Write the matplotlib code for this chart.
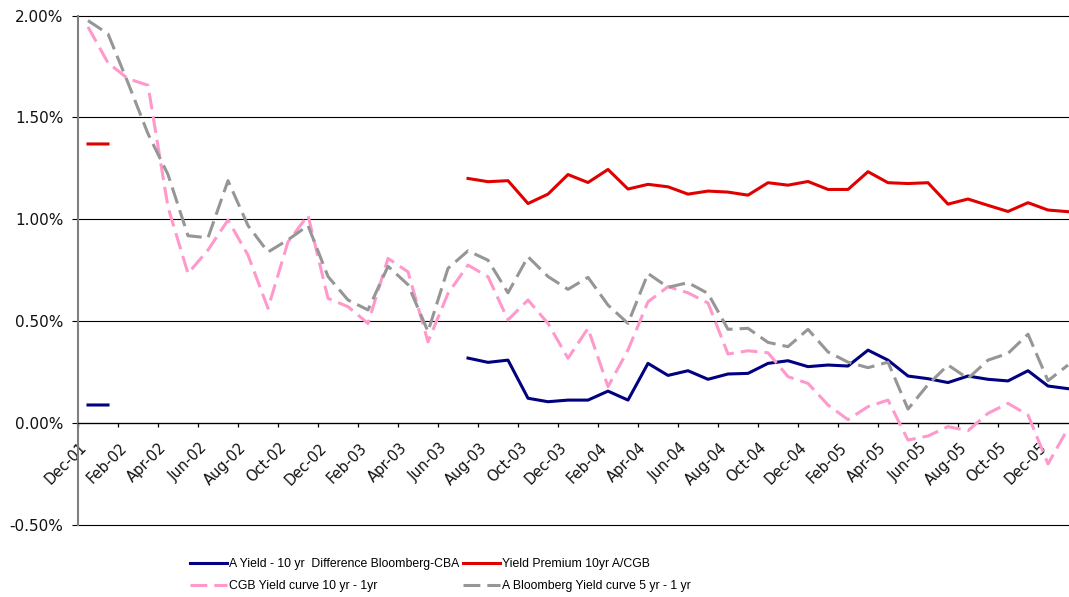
import numpy as np
import pandas as pd
import matplotlib
matplotlib.use("Agg")
import matplotlib.pyplot as plt
import matplotlib.transforms as mtrans
from matplotlib.ticker import FuncFormatter

# ---------------- data ----------------
months = [d.strftime("%b-%y") for d in pd.date_range("2001-12-01", periods=50, freq="MS")]
tick_labels = months[::2]

nan = np.nan
navy_diff = [0.09, 0.09] + [nan] * 17 + [
    0.32, 0.299, 0.31, 0.123, 0.106, 0.114, 0.114, 0.158, 0.114, 0.294,
    0.235, 0.258, 0.216, 0.242, 0.245, 0.294, 0.307, 0.278, 0.286, 0.281,
    0.359, 0.31, 0.232, 0.219, 0.2, 0.232, 0.216, 0.208, 0.258, 0.183, 0.17]

red_premium = [1.37, 1.37] + [nan] * 17 + [
    1.201, 1.185, 1.19, 1.078, 1.124, 1.22, 1.181, 1.245, 1.149, 1.172,
    1.16, 1.124, 1.139, 1.134, 1.119, 1.18, 1.168, 1.186, 1.147, 1.147,
    1.234, 1.18, 1.176, 1.18, 1.075, 1.1, 1.069, 1.039, 1.082, 1.046, 1.038]

pink_cgb = [
    1.944, 1.768, 1.69, 1.658, 1.06, 0.735, 0.85, 0.997, 0.825, 0.564,
    0.89, 1.02, 0.613, 0.572, 0.49, 0.809, 0.743, 0.40, 0.637, 0.776,
    0.719, 0.507, 0.605, 0.49, 0.319, 0.466, 0.18, 0.36, 0.596, 0.67,
    0.64, 0.59, 0.34, 0.356, 0.346, 0.229, 0.196, 0.09, 0.018, 0.082,
    0.114, -0.082, -0.062, -0.016, -0.036, 0.049, 0.098, 0.041, -0.199, -0.025]

gray_bloom = [
    1.975, 1.91, 1.67, 1.42, 1.22, 0.92, 0.91, 1.19, 0.97, 0.84,
    0.90, 0.97, 0.72, 0.605, 0.556, 0.77, 0.68, 0.45, 0.76, 0.846,
    0.80, 0.64, 0.817, 0.72, 0.657, 0.716, 0.58, 0.49, 0.735, 0.667,
    0.69, 0.637, 0.461, 0.466, 0.397, 0.376, 0.461, 0.35, 0.30, 0.273,
    0.30, 0.07, 0.19, 0.286, 0.22, 0.31, 0.343, 0.437, 0.209, 0.286]

labels = ["A Yield - 10 yr  Difference Bloomberg-CBA",
          "Yield Premium 10yr A/CGB",
          "CGB Yield curve 10 yr - 1yr",
          "A Bloomberg Yield curve 5 yr - 1 yr"]

# ---------------- figure ----------------
W, H = 1069, 597
fig = plt.figure(figsize=(W / 100, H / 100), dpi=100)
ax = fig.add_axes([78 / W, 1 - 525.3 / H, 1000 / W, (525.3 - 15.5) / H])

x = np.arange(len(months))
dash = (0, (5.5, 2.3))
l1, = ax.plot(x, navy_diff, color="#000080", lw=2.2, label=labels[0], zorder=3)
l2, = ax.plot(x, red_premium, color="#E00000", lw=2.2, label=labels[1], zorder=3)
l3, = ax.plot(x, pink_cgb, color="#FF99CC", lw=2.2, ls=dash, label=labels[2], zorder=3)
l4, = ax.plot(x, gray_bloom, color="#969696", lw=2.2, ls=dash, label=labels[3], zorder=4)

ax.set_xlim(-0.5, len(months) - 0.5)
ax.set_ylim(-0.5, 2.0)
ax.set_yticks(np.arange(-0.5, 2.01, 0.5))
ax.yaxis.set_major_formatter(FuncFormatter(lambda v, p: f"{v:.2f}%"))
ax.grid(axis="y", color="black", lw=0.8)
ax.set_axisbelow(True)
for gl in ax.yaxis.get_gridlines():
    gl.set_clip_on(False)

for s in ["top", "right"]:
    ax.spines[s].set_visible(False)
ax.spines["left"].set_color("#808080")
ax.spines["left"].set_linewidth(1.5)
ax.spines["bottom"].set_position(("data", 0))
ax.spines["bottom"].set_color("black")
ax.spines["bottom"].set_linewidth(0.9)

ax.set_xticks(x[::2] - 0.5)
ax.set_xticklabels(tick_labels, rotation=45, ha="right", va="top",
                   rotation_mode="anchor", fontsize=10.5, family="DejaVu Sans",
                   color="#111111")
ax.tick_params(axis="x", direction="out", length=3, width=0.9, color="black", pad=9)
ax.tick_params(axis="y", direction="out", length=4.5, width=0.8, color="black",
               pad=6, labelsize=11, labelcolor="#111111")
offset = mtrans.ScaledTranslation(1 / 100, 0, fig.dpi_scale_trans)
for lab in ax.get_xticklabels():
    lab.set_transform(lab.get_transform() + offset)

leg = fig.legend([l1, l3, l2, l4], [labels[0], labels[2], labels[1], labels[3]],
                 ncol=2, loc="upper left", bbox_to_anchor=(190 / W, 1 - 558 / H),
                 frameon=False, prop={"family": "Liberation Sans", "size": 8.8},
                 handlelength=3.0, handletextpad=0.2, columnspacing=0.3,
                 labelspacing=0.85, borderpad=0, borderaxespad=0)

fig.savefig("out.png", dpi=100)
